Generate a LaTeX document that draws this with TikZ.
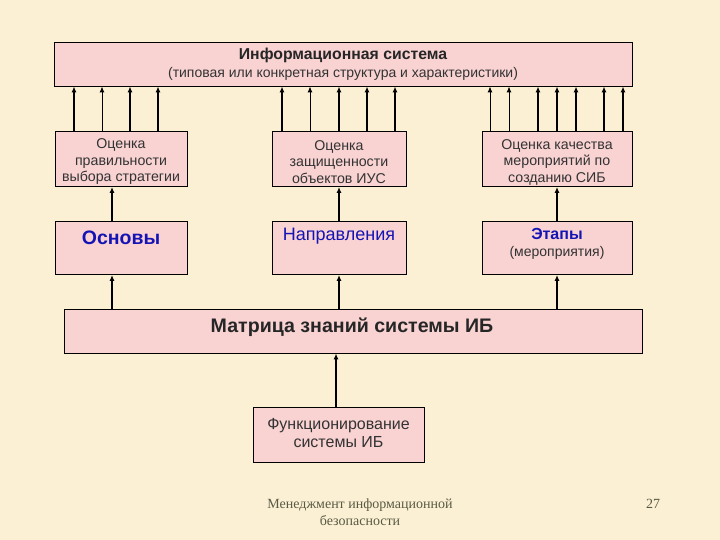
\documentclass[tikz,border=0pt]{standalone}
\usepackage{fontspec}
\setmainfont{Liberation Sans}
\newfontfamily\footfont{Liberation Serif}
\usetikzlibrary{arrows.meta, positioning, calc}
\definecolor{pagebg}{HTML}{FBF0D4}
\definecolor{boxpink}{HTML}{F9D2D2}
\definecolor{headblue}{HTML}{1414B4}
\definecolor{foottext}{HTML}{5A5A44}
\tikzset{
	pinkbox/.style={
			rectangle,
			draw=black,
			fill=boxpink,
			line width=0.9pt,
			inner sep=0pt
		},
	smalltext/.style={
			align=center,
			inner sep=0pt,
			font=\fontsize{14.2}{16.5}\selectfont,
			text=black!80
		},
	bigarrow/.style={
			draw=black,
			line width=1.7pt,
			-{Latex[length=6pt,width=5pt]}
		},
	thinarrow/.style={
			bigarrow,
			line width=1pt
		}
}

\begin{document}
\begin{tikzpicture}[x=1pt, y=-1pt]
\fill[pagebg] (0,0) rectangle (720,540);
\useasboundingbox (0,0) rectangle (720,540);

\node[pinkbox, minimum width=578pt, minimum height=44pt] (infsys) at (343,64) {};
\node[font=\fontsize{15.8}{18}\selectfont\bfseries, text=black!85] (infsyst) at (343,55)
	{Информационная система};
\node[font=\fontsize{14}{16}\selectfont, text=black!80] (infsyss) at (343,74)
	{(типовая или конкретная структура и характеристики)};

\node[pinkbox, minimum width=132pt, minimum height=55pt] (ocen1) at (121,159) {};
\node[smalltext] (ocen1t) at (121,162) {Оценка\\правильности\\выбора стратегии};
\node[pinkbox, minimum width=134pt, minimum height=55pt] (ocen2) at (339,159) {};
\node[smalltext] (ocen2t) at (339,162) {Оценка\\защищенности\\объектов ИУС};
\node[pinkbox, minimum width=150pt, minimum height=55pt] (ocen3) at (557,159) {};
\node[smalltext] (ocen3t) at (557,162) {Оценка качества\\мероприятий по\\созданию СИБ};

\node[pinkbox, minimum width=132pt, minimum height=53pt] (osnovy) at (121,248) {};
\node[text=headblue, font=\fontsize{19.5}{22}\selectfont\bfseries] (osnovyt) at (121,238) {Основы};
\node[pinkbox, minimum width=134pt, minimum height=53pt] (naprav) at (339,248) {};
\node[text=headblue, font=\fontsize{18}{20}\selectfont] (napravt) at (339,236) {Направления};
\node[pinkbox, minimum width=150pt, minimum height=53pt] (etapy) at (557,248) {};
\node[text=headblue, font=\fontsize{16}{18}\selectfont\bfseries] (etapyt) at (557,234) {Этапы};
\node[text=black!80, font=\fontsize{14}{16}\selectfont] (etapys) at (557,253) {(мероприятия)};

\node[pinkbox, minimum width=578pt, minimum height=44pt] (matrix) at (353,331) {};
\node[font=\fontsize{19.6}{22}\selectfont\bfseries, text=black!85] (matrixt) at (352,327)
	{Матрица знаний системы ИБ};

\node[pinkbox, minimum width=171pt, minimum height=55pt] (funkc) at (338.5,435) {};
\node[smalltext, font=\fontsize{16}{18}\selectfont] (funkct) at (338.5,433)
	{Функционирование\\системы ИБ};

% arrows into the information system
\foreach \x in {74,130,158}
	\draw[bigarrow] (ocen1.north -| \x,0) -- (infsys.south -| \x,0);
\draw[thinarrow] (ocen1.north -| 102,0) -- (infsys.south -| 102,0);
\foreach \x in {282,339,367,395}
	\draw[bigarrow] (ocen2.north -| \x,0) -- (infsys.south -| \x,0);
\draw[thinarrow] (ocen2.north -| 310,0) -- (infsys.south -| 310,0);
\foreach \x in {538,557,576,604,623}
	\draw[bigarrow] (ocen3.north -| \x,0) -- (infsys.south -| \x,0);
\foreach \x in {490,509}
	\draw[thinarrow] (ocen3.north -| \x,0) -- (infsys.south -| \x,0);

\draw[bigarrow] (osnovy.north -| 112,0) -- (ocen1.south -| 112,0);
\draw[bigarrow] (naprav) -- (ocen2);
\draw[bigarrow] (etapy) -- (ocen3);

\draw[bigarrow] (matrix.north -| 112,0) -- (osnovy.south -| 112,0);
\draw[bigarrow] (matrix.north -| naprav.south) -- (naprav.south);
\draw[bigarrow] (matrix.north -| etapy.south) -- (etapy.south);

\draw[bigarrow] (funkc.north -| 336,0) -- (matrix.south -| 336,0);

\node[text=foottext, align=center, font=\footfont\fontsize{14}{17}\selectfont] (foot) at (360,512)
	{Менеджмент информационной\\безопасности};
\node[text=foottext, font=\footfont\fontsize{14}{17}\selectfont] (pagenum) at (653,504) {27};
\end{tikzpicture}
\end{document}
